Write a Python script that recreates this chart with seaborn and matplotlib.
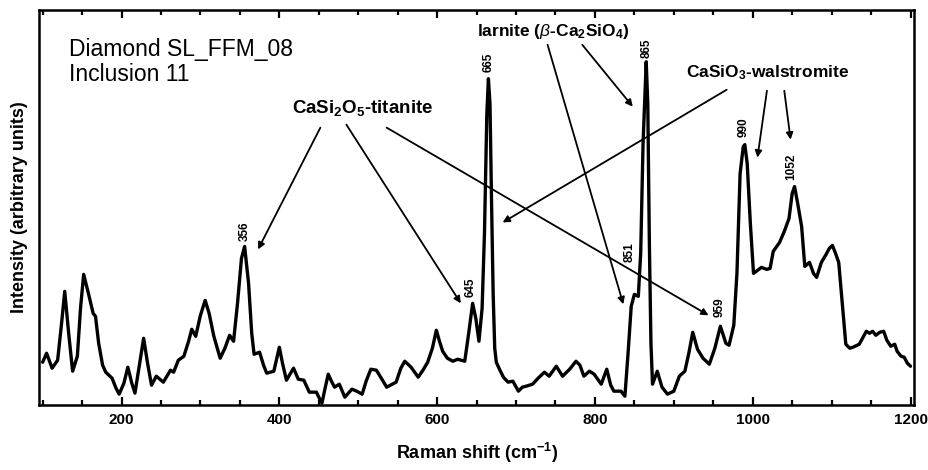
import numpy as np
import pandas as pd
import matplotlib
matplotlib.use('Agg')
from matplotlib import pyplot as plt
from matplotlib.ticker import MultipleLocator
import seaborn as sns

# Raman spectrum (cm-1, arbitrary intensity)
shift = [100, 105, 112, 119, 124, 128, 133, 138, 144, 148, 152, 158, 164, 167, 171, 176, 180,
         188, 193, 197, 203, 208, 213, 217, 222, 228, 233, 238, 244, 253, 262, 266, 272, 279,
         285, 289, 294, 300, 306, 311, 317, 325, 331, 337, 342, 347, 352, 356, 361, 365, 368,
         375, 380, 384, 393, 400, 404, 409, 418, 424, 431, 438, 447, 450, 454, 458, 462, 466,
         470, 476, 483, 492, 498, 505, 510, 516, 523, 530, 536, 548, 554, 559, 567, 576, 582,
         588, 594, 599, 603, 607, 613, 620, 626, 635, 640, 645, 649, 653, 657, 660, 663, 665,
         667, 669, 671, 673, 675, 679, 684, 690, 696, 703, 708, 713, 721, 728, 736, 742, 751,
         759, 768, 776, 781, 786, 793, 799, 808, 815, 820, 824, 833, 838, 842, 846, 850, 855,
         858, 861, 865, 867, 869, 871, 873, 879, 885, 892, 900, 907, 914, 919, 924, 930, 937,
         945, 952, 959, 966, 970, 976, 980, 984, 988, 990, 993, 997, 1001, 1006, 1011, 1018,
         1022, 1026, 1034, 1040, 1046, 1050, 1053, 1057, 1062, 1066, 1072, 1077, 1081, 1087,
         1093, 1097, 1101, 1105, 1109, 1113, 1118, 1123, 1127, 1135, 1144, 1148, 1152, 1156,
         1161, 1166, 1170, 1175, 1180, 1183, 1188, 1192, 1196, 1200]
intensity = [41, 50, 35, 43, 80, 112, 70, 32, 47, 95, 129, 110, 90, 87, 60, 38, 31,
             25, 15, 9, 20, 36, 20, 10, 35, 65, 40, 18, 27, 21, 33, 31, 43, 47,
             62, 74, 67, 88, 103, 90, 67, 45, 55, 68, 62, 100, 145, 157, 120, 70, 49,
             51, 38, 30, 32, 56, 40, 23, 35, 24, 23, 11, 11, 6, 0, 15, 29, 22,
             16, 19, 6, 14, 12, 9, 22, 34, 33, 24, 16, 21, 35, 42, 36, 26, 33,
             41, 55, 73, 62, 52, 45, 42, 44, 42, 70, 100, 85, 62, 95, 170, 290, 325,
             300, 200, 110, 55, 41, 34, 26, 21, 22, 12, 16, 17, 19, 25, 31, 27, 37,
             27, 34, 42, 38, 27, 32, 29, 19, 34, 18, 12, 12, 7, 50, 97, 109, 107,
             150, 260, 342, 300, 160, 60, 19, 32, 16, 9, 12, 27, 32, 50, 71, 54, 45,
             39, 55, 77, 60, 58, 78, 130, 230, 257, 259, 240, 180, 130, 133, 136, 134,
             135, 152, 161, 172, 185, 210, 217, 200, 177, 137, 141, 130, 126, 141,
             149, 155, 158, 150, 141, 104, 59, 55, 56, 59, 72, 70, 72, 68,
             71, 72, 63, 57, 59, 52, 47, 46, 40, 37]

# peak labels
peak_labels = ['356', '645', '665', '851', '865', '959', '990', '1052']
peak_x = [356, 642, 665, 844, 865, 958, 988, 1049]
peak_y = [172, 116, 341, 151, 356, 96, 276, 237]

# phase labels and the arrows that go from them
phases = [r'CaSi$_\mathbf{2}$O$_\mathbf{5}$-titanite',
          r'larnite ($\mathit{\beta}$-Ca$_\mathbf{2}$SiO$_\mathbf{4}$)',
          r'CaSiO$_\mathbf{3}$-walstromite']
phase_x = [505, 747, 1019]
phase_y = [296, 372, 331]
phase_size = [13.5, 12.5, 12.5]
arrows = [  # (phase index, start x, start y, end x, end y)
    (0, 452, 276, 373, 154),
    (0, 485, 279, 630, 100),
    (0, 536, 276, 944, 88),
    (1, 740, 359, 836, 99),
    (1, 784, 359, 848, 297),
    (2, 967, 314, 683, 181),
    (2, 1018, 313, 1006, 246),
    (2, 1040, 313, 1048, 264),
]

df = pd.DataFrame({'shift': shift, 'intensity': intensity})

sns.set_style('ticks')
plt.rcParams['font.family'] = ['Liberation Sans', 'DejaVu Sans']
plt.rcParams['mathtext.fontset'] = 'custom'
plt.rcParams['mathtext.rm'] = 'Liberation Sans'
plt.rcParams['mathtext.bf'] = 'Liberation Sans:bold'
plt.rcParams['mathtext.it'] = 'Liberation Sans:italic'
plt.rcParams['text.color'] = 'black'
plt.rcParams['axes.labelcolor'] = 'black'
plt.rcParams['xtick.color'] = 'black'
plt.rcParams['xtick.labelcolor'] = 'black'

fig = plt.figure(figsize=(9.29, 4.70), dpi=100)
ax = fig.add_axes([0.0425, 0.138, 0.941, 0.841])

sns.lineplot(data=df, x='shift', y='intensity', ax=ax, color='black', lw=2.4,
             estimator=None, sort=False)

ax.set_xlim(96, 1204)
ax.set_ylim(-2, 394)
ax.xaxis.set_major_locator(MultipleLocator(200))
ax.xaxis.set_minor_locator(MultipleLocator(50))
ax.set_yticks([])
ax.tick_params(axis='x', which='both', direction='in', top=True, width=1.6,
               labelsize=11, pad=6)
ax.tick_params(axis='x', which='major', length=6)
ax.tick_params(axis='x', which='minor', length=3.5)
for lab in ax.get_xticklabels():
    lab.set_fontweight('bold')
for sp in ax.spines.values():
    sp.set_linewidth(1.8)
    sp.set_color('black')

ax.set_xlabel(r'Raman shift (cm$^\mathbf{-1}$)', fontsize=13, fontweight='bold', labelpad=10)
ax.set_ylabel('Intensity (arbitrary units)', fontsize=13, fontweight='bold', labelpad=8)

ax.text(134, 354, 'Diamond SL_FFM_08', fontsize=16.5, ha='left', va='center')
ax.text(134, 329, 'Inclusion 11', fontsize=16.5, ha='left', va='center')

for name, px, py, fs in zip(phases, phase_x, phase_y, phase_size):
    ax.text(px, py, name, fontsize=fs, fontweight='bold', ha='center', va='center')

for i, x0, y0, x1, y1 in arrows:
    ax.annotate('', xy=(x1, y1), xytext=(x0, y0),
                arrowprops=dict(arrowstyle='-|>', color='black', lw=1.3,
                                mutation_scale=10, shrinkA=0, shrinkB=0))

for lab, px, py in zip(peak_labels, peak_x, peak_y):
    ax.text(px, py, lab, fontsize=8.5, fontweight='bold', rotation=90,
            ha='center', va='center')

plt.savefig('out.png', dpi=100)
